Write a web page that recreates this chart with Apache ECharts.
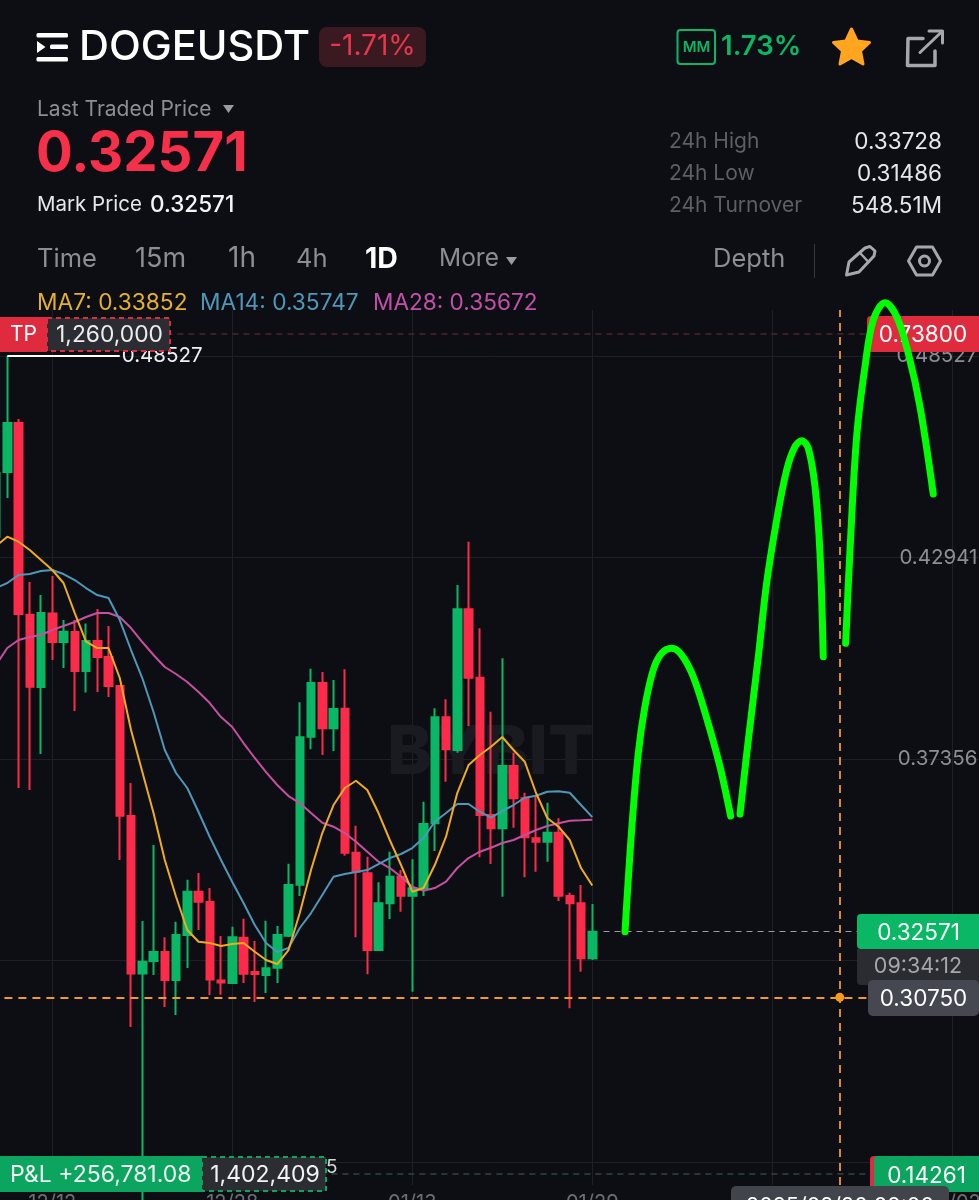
<!DOCTYPE html>
<html>
<head>
<meta charset="utf-8">
<title>DOGEUSDT</title>
<script src="https://cdn.jsdelivr.net/npm/echarts@6/dist/echarts.min.js"></script>
<style>
html,body{margin:0;padding:0;background:#0d0e13;overflow:hidden}
#main{width:979px;height:1200px}
</style>
</head>
<body>
<div id="main"></div>
<script>
// daily candles, first one is 12/07
var opens = [.43509,.45311,.46669,.41355,.39351,.41389,.40599,.40876,.39795,.40626,.40183,.39379,.35776,.31411,.31757,.32006,.31230,.32478,.33678,.33392,.31217,.31147,.32403,.31452,.31369,.31571,.32458,.33872,.37974,.39462,.38207,.38750,.34759,.34188,.32062,.33356,.34094,.33567,.33772,.35574,.38512,.37605,.41505,.39609,.35804,.35435,.37162,.36266,.35158,.35064,.35313,.33559,.33356,.31832];
var closes = [.45283,.46669,.41375,.39360,.41402,.40599,.40884,.39795,.40626,.40183,.39379,.35784,.31411,.31738,.32006,.31230,.32478,.33678,.33401,.31244,.31161,.32414,.31405,.31397,.31555,.32478,.33863,.37957,.39462,.38207,.38742,.34759,.34232,.32062,.33356,.34094,.33567,.33772,.35554,.38512,.37625,.41505,.39609,.35804,.35435,.37162,.36266,.35186,.35064,.35313,.33567,.33356,.31832,.32571];
var lows = [.43426,.44590,.36552,.36497,.37494,.40100,.39878,.38686,.39199,.39213,.39074,.34556,.29928,.14261,.31369,.30482,.30260,.31563,.32616,.30815,.30823,.31119,.31147,.30621,.30870,.31147,.32422,.33559,.37625,.37467,.37578,.34676,.32414,.31388,.32034,.32921,.33123,.30906,.33559,.34806,.36727,.37531,.38270,.34631,.34446,.33539,.35452,.34077,.34232,.34509,.33420,.30446,.31460,.31785];
var highs = [.45366,.48527,.46780,.42262,.41901,.42428,.41208,.41208,.41111,.41513,.41042,.39379,.36691,.32866,.34972,.32414,.32846,.34010,.34196,.33780,.32450,.32708,.32930,.32311,.32874,.32727,.34454,.38927,.39859,.39767,.39545,.39842,.35507,.34648,.33938,.34787,.34279,.34576,.36172,.38761,.39010,.42179,.43379,.40978,.38667,.40147,.37531,.36422,.36339,.36145,.35712,.33650,.33863,.33337];

var ma7 = [.43260,.43518,.43379,.43149,.42871,.42594,.42234,.41402,.40607,.40432,.40432,.39601,.38160,.37004,.35859,.34556,.33539,.32616,.32292,.32256,.32173,.32228,.32256,.32015,.31785,.31674,.32062,.33087,.34279,.35305,.36081,.36552,.36754,.36497,.35859,.35111,.34418,.33678,.33780,.34418,.35202,.36413,.37189,.37467,.37697,.37966,.37605,.37281,.36413,.35721,.35479,.35111,.34335,.33852];
var ma14 = [.42095,.42234,.42456,.42483,.42567,.42594,.42483,.42317,.42095,.41901,.41818,.41208,.40377,.39601,.38658,.37605,.36968,.36552,.35887,.35194,.34556,.33947,.33365,.32755,.32256,.32006,.32117,.32672,.33087,.33586,.34094,.34168,.34224,.34279,.34445,.34612,.34723,.34889,.35166,.35618,.35859,.36109,.36109,.35895,.35729,.35915,.36081,.36283,.36339,.36450,.36461,.36422,.36081,.35747];
var ma28 = [.39961,.40432,.40654,.40737,.40793,.40931,.41042,.41153,.41292,.41402,.41402,.41292,.40987,.40599,.40238,.39906,.39712,.39490,.39213,.38908,.38520,.38243,.37799,.37384,.36995,.36635,.36330,.36136,.35859,.35590,.35479,.35305,.35064,.34787,.34509,.34335,.34094,.33816,.33706,.33780,.33955,.34335,.34612,.34787,.34897,.35028,.35111,.35249,.35388,.35499,.35574,.35646,.35657,.35672];

// hand drawn arrows, [day index, price]
var stroke1 = [[54.91,.32569],[55.50,.35388],[56.09,.37514],[56.68,.38805],[57.42,.39823],[58.17,.40285],[59.06,.40424],[59.95,.40238],[60.98,.39637],[62.17,.38484],[63.35,.37143],[64.30,.35776]];
var stroke2 = [[65.13,.35831],[65.87,.37882],[66.76,.40191],[67.50,.42234],[68.39,.43980],[69.28,.45366],[70.02,.46012],[70.61,.46178],[71.20,.45968],[71.80,.44903],[72.24,.43065],[72.53,.40191]];
var stroke3 = [[74.52,.40562],[74.91,.43149],[75.50,.46289],[76.24,.48229],[76.98,.49524],[78.02,.50003],[79.06,.49615],[80.09,.48601],[81.13,.47121],[82.31,.44701]];

var gridTicks = [.48527,.42941,.37356,.31771,.26186];
var priceLabels = [.48527,.42941,.37356];
var dateTicks = ['12/12','12/28','01/13','01/29','02/14','03/02'];

var lastPrice = .32571, cursorPrice = .30750, maxPrice = .48527;
var tpLine = .49136, slLine = .25853; // pinned to the chart edges

var categories = [];
for (var i = 0; i < 88; i++) {
  var d = new Date(Date.UTC(2024, 11, 7 + i));
  categories.push(('0' + (d.getUTCMonth() + 1)).slice(-2) + '/' + ('0' + d.getUTCDate()).slice(-2));
}
var cursorIdx = 75; // 02/20

var candles = opens.map(function (o, i) { return [o, closes[i], lows[i], highs[i]]; });

var RED = '#fb2b49', GREEN = '#09b765', FONT = 'Inter, Roboto, sans-serif';

function txt(x, y, s, size, color, align, weight, z) {
  return { type: 'text', x: x, y: y + 2, z: z || 50, silent: true, style: {
    text: s, fill: color, font: (weight || 400) + ' ' + size + 'px ' + FONT,
    textAlign: align || 'left', textVerticalAlign: 'middle' } };
}
function box(x, y, w, h, color, r, z) {
  return { type: 'rect', z: z || 49, silent: true, shape: { x: x, y: y, width: w, height: h, r: r || 0 }, style: { fill: color } };
}
function dashBox(x, y, w, h, fill, stroke) {
  return { type: 'rect', z: 49, silent: true, shape: { x: x, y: y, width: w, height: h },
    style: { fill: fill, stroke: stroke, lineWidth: 2, lineDash: [5, 4] } };
}
function icon(type, shape, color, w, z) {
  return { type: type, z: z || 50, silent: true, shape: shape,
    style: { fill: type == 'polygon' && w == 0 ? color : 'none', stroke: color, lineWidth: w || 0, lineJoin: 'round', lineCap: 'round' } };
}

var GRAY = '#8b8e94', DIM = '#5c5f65', TEXT = '#e6e7ea';

var graphics = [
  // watermark
  txt(387, 752, 'BYBIT', 68, '#1a1b20', 'left', 800, 1),
  // header
  box(36.5, 33, 31.5, 4.5, '#fff', 1.5), box(36.5, 57, 31.5, 4.5, '#fff', 1.5), box(50, 44.5, 18, 4.5, '#fff', 1.5),
  icon('polygon', { points: [[37, 41], [45.5, 47], [37, 53]] }, '#fff', 0),
  txt(79, 46, 'DOGEUSDT', 41.5, '#fff', 'left', 500),
  box(319, 27, 107, 40, '#3a1a20', 8),
  txt(372.5, 45, '-1.71%', 28, '#e9364a', 'center'),
  { type: 'rect', z: 50, silent: true, shape: { x: 677.5, y: 30, width: 37.5, height: 34, r: 3 }, style: { fill: 'none', stroke: GREEN, lineWidth: 2 } },
  txt(696.5, 45.5, 'MM', 15, GREEN, 'center', 600),
  txt(721, 45, '1.73%', 27.5, GREEN, 'left', 600),
  { type: 'polygon', z: 50, silent: true, shape: { points: [[851.5, 29], [857.1, 41], [869.5, 42.5], [860.5, 51], [863, 64], [851.5, 57.5], [840, 64], [842.5, 51], [833.5, 42.5], [845.9, 41]] },
    style: { fill: '#ffa51f', stroke: '#ffa51f', lineWidth: 3, lineJoin: 'round' } },
  icon('polyline', { points: [[923, 38.5], [908, 38.5], [907.5, 65.5], [935, 65.5], [935, 51]] }, '#a5a7ad', 3.5),
  icon('polyline', { points: [[920, 52.5], [942, 31.5]] }, '#a5a7ad', 3),
  icon('polyline', { points: [[929, 31], [942.5, 31], [942.5, 43]] }, '#a5a7ad', 3),

  txt(37, 108, 'Last Traded Price', 21, GRAY),
  icon('polygon', { points: [[223, 105], [234, 105], [228.5, 113]] }, '#9a9ca2', 0),
  txt(36, 153, '0.32571', 54.5, '#f6304a', 'left', 700),
  txt(37, 203, 'Mark Price', 20.5, TEXT),
  txt(150, 203, '0.32571', 22.5, '#f4f4f6', 'left', 500),

  txt(669, 140, '24h High', 21, DIM), txt(942, 140, '0.33728', 22.5, TEXT, 'right'),
  txt(669, 172, '24h Low', 21, DIM), txt(942, 172, '0.31486', 22.5, TEXT, 'right'),
  txt(669, 204, '24h Turnover', 21, DIM), txt(942, 204, '548.51M', 22.5, TEXT, 'right'),

  txt(37, 257, 'Time', 25.5, GRAY), txt(135, 257, '15m', 27, GRAY), txt(228, 257, '1h', 28, GRAY),
  txt(296, 257, '4h', 25.5, GRAY), txt(365, 257, '1D', 28.5, '#fff', 'left', 700), txt(439, 257, 'More', 24.5, GRAY),
  icon('polygon', { points: [[506, 257], [517, 257], [511.5, 265]] }, '#9a9ca2', 0),
  txt(713, 257, 'Depth', 25.5, GRAY),
  box(814, 244, 1, 34, '#34363c'),
  icon('polygon', { points: [[846.5, 275], [849, 262], [865, 248], [870, 246.5], [875, 251], [874, 256], [859, 272]] }, '#a5a7ad', 3),
  icon('polyline', { points: [[861, 254], [868.5, 262]] }, '#a5a7ad', 2.5),
  icon('polygon', { points: [[908.5, 261], [916.5, 247], [932.5, 247], [940.5, 261], [932.5, 275], [916.5, 275]] }, '#a5a7ad', 3),
  { type: 'circle', z: 50, silent: true, shape: { cx: 924.5, cy: 261, r: 5 }, style: { fill: 'none', stroke: '#a5a7ad', lineWidth: 3 } },

  txt(37, 301, 'MA7: 0.33852', 22.7, '#e5b02c'),
  txt(200, 301, 'MA14: 0.35747', 22.7, '#4f97b8'),
  txt(373, 301, 'MA28: 0.35672', 22.6, '#c350a8'),

  // position tags on the left
  dashBox(47, 318, 123, 33, '#2b2d33', '#e02b3e'),
  box(0, 317, 47, 35, '#e02b3e'),
  txt(23.5, 333, 'TP', 21, '#fff', 'center'),
  txt(109.5, 333, '1,260,000', 22.8, '#eceded', 'center'),
  txt(326, 1165, '5', 19, '#d5d6d8'),
  dashBox(202, 1157, 124, 34, '#2b2d33', '#0ba55f'),
  box(0, 1156, 202, 36, '#0ba55f'),
  txt(10, 1173, 'P&L +256,781.08', 23, '#f2f3f4'),
  txt(265, 1173, '1,402,409', 23, '#f2f3f4', 'center'),

  // price tags on the right
  box(867, 316, 112, 36, '#e02b3e', [4, 0, 0, 4]),
  txt(923, 333, '0.73800', 22.5, '#fff', 'center'),
  box(857, 949, 122, 36, '#2a2c32', [0, 0, 0, 4]),
  txt(918, 965, '09:34:12', 21.5, '#a5a7ad', 'center'),
  box(857, 914, 122, 35, '#09b765', [4, 0, 0, 4]),
  txt(918.5, 931, '0.32571', 22.5, '#fff', 'center'),
  box(868, 980, 111, 36, '#454850', 5),
  txt(923.5, 997, '0.30750', 22.5, '#fff', 'center'),
  box(870, 1156, 20, 36, '#e02b3e', 4),
  box(874, 1156, 105, 36, '#0ba55f', [4, 0, 0, 4]),
  txt(926.5, 1174, '0.14261', 22.5, '#fff', 'center'),
  box(731, 1186, 218, 30, '#41444b', 5, 51),
  txt(840, 1205, '2025/02/20 08:00', 21.5, '#fff', 'center', 400, 52)
];

var myChart = echarts.init(document.getElementById('main'));

function maLine(data, color) {
  return { type: 'line', data: data, showSymbol: false, z: 4, lineStyle: { color: color, width: 2 }, silent: true };
}
function drawn(data) {
  return { type: 'line', data: data, xAxisIndex: 1, smooth: 0.35, showSymbol: false, clip: false, z: 100, silent: true,
    lineStyle: { color: '#00ff00', width: 7, cap: 'round', join: 'round' } };
}

var option = {
  animation: false,
  backgroundColor: '#0d0e13',
  grid: { left: -9.6, top: 310, width: 990, height: 875, outerBoundsMode: 'none' },
  xAxis: [
    { type: 'category', data: categories, position: 'bottom',
      axisLine: { show: false }, axisTick: { show: false, alignWithLabel: true },
      splitLine: { show: true, alignWithLabel: true, lineStyle: { color: '#1f2025', width: 1 },
        interval: function (i, name) { return dateTicks.indexOf(name) >= 0; } },
      axisLabel: { color: '#6b6e75', fontSize: 20, fontFamily: FONT, margin: 8,
        interval: function (i, name) { return dateTicks.indexOf(name) >= 0; } } },
    { type: 'value', show: false, min: -1.5, max: 86.5, position: 'top', splitLine: { show: false } }
  ],
  yAxis: {
    type: 'value', position: 'right', min: 0.25549, max: 0.49801,
    axisLine: { show: false },
    axisTick: { show: false, customValues: gridTicks },
    splitLine: { show: true, lineStyle: { color: '#1f2025', width: 1 } },
    axisLabel: { inside: true, margin: 3, color: '#8b8e94', fontSize: 20.5, fontFamily: FONT,
      customValues: priceLabels, formatter: function (v) { return v.toFixed(5); } }
  },
  graphic: { elements: graphics },
  series: [
    { type: 'candlestick', data: candles, barWidth: 8, z: 3,
      itemStyle: { color: GREEN, color0: RED, borderColor: GREEN, borderColor0: RED, borderWidth: 2 },
      markLine: { silent: true, symbol: 'none', animation: false, precision: 5,
        data: [
          // highest price marker
          [{ coord: [1, maxPrice], lineStyle: { color: '#fff', width: 2, type: 'solid' },
             label: { show: true, position: 'end', formatter: '0.48527', color: '#f0f0f2', fontSize: 20.5, fontFamily: FONT, distance: 2 } },
           { coord: [11, maxPrice] }],
          // last price
          [{ coord: [54, lastPrice], lineStyle: { color: '#9b9da3', width: 1, type: [6, 5] }, label: { show: false } },
           { coord: [87, lastPrice] }],
          { yAxis: tpLine, lineStyle: { color: '#4f252c', width: 1.5, type: [6, 5] }, label: { show: false } },
          { yAxis: slLine, lineStyle: { color: '#2e4a3a', width: 1.5, type: [6, 5] }, label: { show: false } },
          // crosshair
          { yAxis: cursorPrice, lineStyle: { color: '#ef9a2b', width: 1.8, type: [8, 6] }, label: { show: false } },
          { xAxis: categories[cursorIdx], lineStyle: { color: '#ef9a2b', width: 1.8, type: [8, 6] }, label: { show: false } }
        ] },
      markPoint: { silent: true, symbol: 'circle', symbolSize: 9, animation: false,
        itemStyle: { color: '#fa9a1c' }, label: { show: false },
        data: [{ coord: [cursorIdx, cursorPrice] }] }
    },
    maLine(ma28, '#c4509f'),
    maLine(ma14, '#4f97b8'),
    maLine(ma7, '#f0ab1f'),
    drawn(stroke1), drawn(stroke2), drawn(stroke3)
  ]
};

myChart.setOption(option);
</script>
</body>
</html>
